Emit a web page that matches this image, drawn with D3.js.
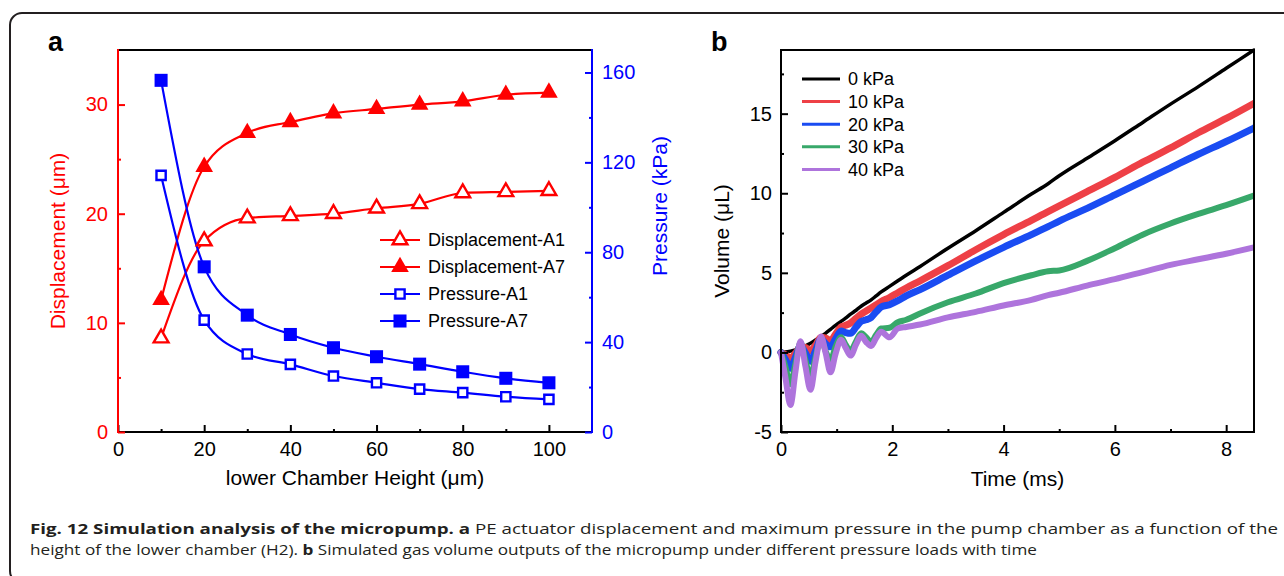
<!DOCTYPE html>
<html><head><meta charset="utf-8">
<script src="https://cdn.jsdelivr.net/npm/d3@7"></script>
<style>html,body{margin:0;padding:0;background:#fff;} svg{display:block;}</style>
</head><body>
<svg id="chart" width="1284" height="576"></svg>
<script>
// ---------- Panel a data ----------
const heights = [10, 20, 30, 40, 50, 60, 70, 80, 90, 100];
const dispA1 = [8.6, 17.5, 19.6, 19.8, 20.0, 20.5, 20.9, 21.9, 22.0, 22.1];
const dispA7 = [12.1, 24.3, 27.4, 28.4, 29.2, 29.6, 30.0, 30.3, 30.9, 31.1];
const pressA1 = [114.2, 49.8, 34.7, 30.1, 24.9, 21.9, 19.1, 17.5, 15.7, 14.5];
const pressA7 = [156.5, 73.5, 52.0, 43.4, 37.5, 33.5, 30.2, 26.8, 23.9, 21.9];
const legendA = ["Displacement-A1", "Displacement-A7", "Pressure-A1", "Pressure-A7"];
const xTicksA = [0, 20, 40, 60, 80, 100];
const yTicksL = [0, 10, 20, 30];
const yTicksR = [0, 40, 80, 120, 160];

// ---------- Panel b data ----------
const times = [0, 0.08, 0.17, 0.26, 0.35, 0.44, 0.53, 0.62, 0.72, 0.8, 0.89, 0.98, 1.08, 1.16, 1.25, 1.35, 1.44, 1.53, 1.62, 1.71, 1.8, 1.95, 2.1, 2.25, 2.5, 3, 3.5, 4, 4.5, 4.8, 5, 5.5, 6, 6.5, 7, 7.5, 8, 8.5];
const vol0  = [0, 0.02, 0.08, 0.16, 0.28, 0.42, 0.58, 0.78, 1.0, 1.2, 1.45, 1.7, 1.95, 2.15, 2.4, 2.65, 2.9, 3.1, 3.3, 3.55, 3.8, 4.15, 4.5, 4.85, 5.4, 6.55, 7.65, 8.8, 9.95, 10.6, 11.1, 12.2, 13.3, 14.45, 15.6, 16.7, 17.85, 19.0];
const vol10 = [0, -0.15, -0.35, -0.05, 0.35, 0.3, 0.1, 0.45, 0.95, 0.9, 0.75, 1.15, 1.6, 1.7, 1.85, 2.15, 2.4, 2.6, 2.8, 3.0, 3.2, 3.45, 3.75, 4.05, 4.5, 5.45, 6.45, 7.4, 8.3, 8.85, 9.2, 10.1, 11.0, 11.95, 12.85, 13.8, 14.7, 15.65];
const vol20 = [0, -0.45, -1.0, -0.3, 0.4, -0.05, -0.55, 0.1, 0.85, 0.55, 0.35, 0.85, 1.35, 1.25, 1.2, 1.6, 1.95, 2.05, 2.2, 2.55, 2.85, 3.0, 3.25, 3.55, 3.95, 4.85, 5.75, 6.6, 7.4, 7.9, 8.25, 9.05, 9.9, 10.75, 11.6, 12.45, 13.25, 14.1];
const vol30 = [0, -0.9, -2.0, -0.7, 0.6, -0.5, -1.55, -0.3, 0.85, 0.1, -0.5, 0.35, 0.95, 0.5, 0.1, 0.7, 1.2, 0.95, 0.65, 1.1, 1.5, 1.55, 1.9, 2.05, 2.45, 3.15, 3.7, 4.35, 4.85, 5.1, 5.15, 5.75, 6.55, 7.4, 8.1, 8.7, 9.25, 9.85];
const vol40 = [0, -1.6, -3.3, -1.2, 0.7, -0.9, -2.35, -0.6, 1.0, 0.0, -1.25, -0.1, 0.8, 0.3, -0.2, 0.5, 1.05, 0.65, 0.4, 0.9, 1.3, 0.95, 1.5, 1.6, 1.75, 2.2, 2.55, 2.95, 3.3, 3.6, 3.75, 4.2, 4.6, 5.05, 5.5, 5.85, 6.2, 6.6];
const loadLabels = ["0 kPa", "10 kPa", "20 kPa", "30 kPa", "40 kPa"];
const xTicksB = [0, 2, 4, 6, 8];
const yTicksB = [-5, 0, 5, 10, 15];

// ---------- caption ----------
const caption1 = [["Fig. 12 Simulation analysis of the micropump.", true], [" a", true], [" PE actuator displacement and maximum pressure in the pump chamber as a function of the", false]];
const caption2 = [["height of the lower chamber (H2). ", false], ["b", true], [" Simulated gas volume outputs of the micropump under different pressure loads with time", false]];

// ---------- styles ----------
const FONT = "'Liberation Sans', Arial, Helvetica, sans-serif";
const RED = "#ff0000", BLUE = "#0000ff";
const loadColors = ["#000000", "#ee4046", "#1a4cf2", "#38a86a", "#ae74dc"];
const loadWidths = [3.5, 7, 7, 6, 6];

const svg = d3.select("#chart");
svg.append("rect").attr("width", 1284).attr("height", 576).attr("fill", "#fff");
svg.append("rect").attr("x", 10).attr("y", 13).attr("width", 1300).attr("height", 570).attr("rx", 12)
  .attr("fill", "none").attr("stroke", "#231f20").attr("stroke-width", 2);

function axis(orient, scale, translate, majors, minors, color, pad, fmt) {
  const make = orient === "bottom" ? d3.axisBottom : orient === "left" ? d3.axisLeft : d3.axisRight;
  const gm = svg.append("g").attr("transform", translate)
    .call(make(scale).tickValues(minors).tickFormat("").tickSizeInner(-3).tickSizeOuter(0));
  const g = svg.append("g").attr("transform", translate)
    .call(make(scale).tickValues(majors).tickFormat(fmt || (d => String(d))).tickSizeInner(-7).tickSizeOuter(0).tickPadding(pad));
  [gm, g].forEach(s => {
    s.select(".domain").remove();
    s.selectAll(".tick line").attr("stroke", color).attr("stroke-width", 2);
  });
  g.selectAll(".tick text").attr("fill", color).attr("font-size", 20).attr("font-family", FONT);
  return g;
}
function hline(x1, x2, y, c) { svg.append("line").attr("x1", x1).attr("x2", x2).attr("y1", y).attr("y2", y).attr("stroke", c).attr("stroke-width", 2).attr("stroke-linecap", "square"); }
function vline(x, y1, y2, c) { svg.append("line").attr("x1", x).attr("x2", x).attr("y1", y1).attr("y2", y2).attr("stroke", c).attr("stroke-width", 2).attr("stroke-linecap", "square"); }
function vtitle(x, y, txt, color) {
  svg.append("text").attr("transform", `translate(${x},${y}) rotate(-90)`).attr("text-anchor", "middle")
    .attr("font-family", FONT).attr("font-size", 21).attr("fill", color).text(txt);
}

// ================= Panel a =================
const L = 118, R = 592, T = 50, B = 432;
const xA = d3.scaleLinear().domain([0, 110]).range([L, R]);
const yL = d3.scaleLinear().domain([0, 35]).range([B, T]);
const yR = d3.scaleLinear().domain([0, 170]).range([B, T]);

hline(L, R, T, "#000"); hline(L, R, B, "#000");
axis("bottom", xA, `translate(0,${B})`, xTicksA, [10, 30, 50, 70, 90], "#000", 10);
axis("right", yR, `translate(${R},0)`, yTicksR, [20, 60, 100, 140], BLUE, 10);
vline(R, T, B, BLUE);
axis("left", yL, `translate(${L},0)`, yTicksL, [5, 15, 25], RED, 10);
vline(L, T, B, RED);

svg.append("text").attr("x", 48).attr("y", 51).attr("font-family", FONT).attr("font-weight", "bold").attr("font-size", 27).attr("fill", "#000").text("a");
vtitle(65, 241, "Displacement (\u03bcm)", RED);
vtitle(667, 206, "Pressure (kPa)", BLUE);
svg.append("text").attr("x", (L + R) / 2).attr("y", 485).attr("text-anchor", "middle").attr("font-family", FONT).attr("font-size", 21).attr("fill", "#000").text("lower Chamber Height (\u03bcm)");

const tri = d3.symbol().type(d3.symbolTriangle);
const sq = d3.symbol().type(d3.symbolSquare);
const seriesA = [
  { vals: dispA1, y: yL, color: RED, shape: tri, size: 95, filled: false },
  { vals: dispA7, y: yL, color: RED, shape: tri, size: 135, filled: true },
  { vals: pressA1, y: yR, color: BLUE, shape: sq, size: 85, filled: false },
  { vals: pressA7, y: yR, color: BLUE, shape: sq, size: 170, filled: true }
];
function marker(g, s, x, y) {
  g.append("path").attr("d", s.shape.size(s.size)()).attr("transform", `translate(${x},${y})`)
    .attr("fill", s.filled ? s.color : "#fff").attr("stroke", s.color).attr("stroke-width", s.filled ? 0 : 2.4);
}
seriesA.forEach(s => {
  const line = d3.line().x((d, i) => xA(heights[i])).y(d => s.y(d)).curve(d3.curveMonotoneX);
  svg.append("path").attr("d", line(s.vals)).attr("fill", "none").attr("stroke", s.color).attr("stroke-width", 2.2);
});
seriesA.forEach(s => {
  const g = svg.append("g");
  s.vals.forEach((v, i) => marker(g, s, xA(heights[i]), s.y(v)));
});
// legend a
const legA = svg.append("g");
legendA.forEach((name, i) => {
  const s = seriesA[i], y = 240 + i * 27;
  legA.append("line").attr("x1", 380).attr("x2", 420).attr("y1", y).attr("y2", y).attr("stroke", s.color).attr("stroke-width", 2.2);
  marker(legA, s, 400, y);
  legA.append("text").attr("x", 428).attr("y", y).attr("dy", "0.35em").attr("font-family", FONT).attr("font-size", 18).attr("fill", "#000").text(name);
});

// ================= Panel b =================
const L2 = 781, R2 = 1254;
const xB = d3.scaleLinear().domain([0, 8.5]).range([L2, R2]);
const yB = d3.scaleLinear().domain([-5, 19]).range([B, T]);

const seriesB = [vol0, vol10, vol20, vol30, vol40];
const lineB = d3.line().x((d, i) => xB(times[i])).y(d => yB(d)).curve(d3.curveMonotoneX);
seriesB.forEach((vals, k) => {
  svg.append("path").attr("d", lineB(vals)).attr("fill", "none").attr("stroke", loadColors[k])
    .attr("stroke-width", loadWidths[k]).attr("stroke-linejoin", "round").attr("stroke-linecap", "round");
});
// mask overflow beyond right axis
svg.append("rect").attr("x", R2 + 1).attr("y", 30).attr("width", 25).attr("height", 420).attr("fill", "#fff");

hline(L2, R2, T, "#000"); hline(L2, R2, B, "#000"); vline(R2, T, B, "#000"); vline(L2, T, B, "#000");
axis("bottom", xB, `translate(0,${B})`, xTicksB, [1, 3, 5, 7], "#000", 10);
axis("left", yB, `translate(${L2},0)`, yTicksB, [-2.5, 2.5, 7.5, 12.5, 17.5], "#000", 9);

svg.append("text").attr("x", 711).attr("y", 51).attr("font-family", FONT).attr("font-weight", "bold").attr("font-size", 27).attr("fill", "#000").text("b");
vtitle(729, 241, "Volume (\u03bcL)", "#000");
svg.append("text").attr("x", (L2 + R2) / 2).attr("y", 486).attr("text-anchor", "middle").attr("font-family", FONT).attr("font-size", 21).attr("fill", "#000").text("Time (ms)");

const legB = svg.append("g");
loadLabels.forEach((name, k) => {
  const y = 79 + k * 22.6;
  legB.append("line").attr("x1", 802).attr("x2", 840).attr("y1", y).attr("y2", y).attr("stroke", loadColors[k]).attr("stroke-width", 3);
  legB.append("text").attr("x", 848).attr("y", y).attr("dy", "0.35em").attr("font-family", FONT).attr("font-size", 18).attr("fill", "#000").text(name);
});

// ================= Caption =================
function capLine(parts, y, len) {
  const t = svg.append("text").attr("x", 30).attr("y", y).attr("font-family", "'Open Sans', 'Noto Sans', sans-serif")
    .attr("font-size", 14).attr("fill", "#231f20").attr("textLength", len).attr("lengthAdjust", "spacingAndGlyphs");
  parts.forEach(p => t.append("tspan").attr("font-weight", p[1] ? "bold" : "normal").text(p[0]));
}
capLine(caption1, 533.5, 1248);
capLine(caption2, 554.5, 1007);
</script>
</body></html>
